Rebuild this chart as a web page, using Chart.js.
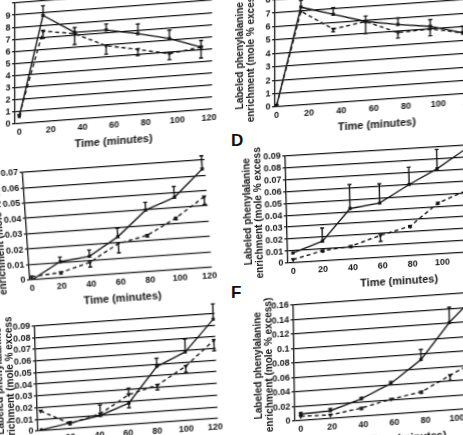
<!DOCTYPE html>
<html><head><meta charset="utf-8">
<script src="https://cdn.jsdelivr.net/npm/chart.js@4/dist/chart.umd.min.js"></script>
<style>
html,body{margin:0;padding:0;background:#fff;width:463px;height:435px;overflow:hidden;position:relative}
canvas.panel{position:absolute}
.letter{position:absolute;font:bold 17px "Liberation Sans",Arial,sans-serif;color:#111}
</style></head><body>
<div class="letter" style="left:231px;top:131px">D</div>
<div class="letter" style="left:231px;top:283px">F</div>
<script>
// ---------- data ----------
const timesA  = [0, 15, 35, 55, 75, 95, 115];
const solidA  = [0.6, 8.8, 7.2, 7.2, 6.7, 6.1, 5.2];
const dashA   = [0.7, 7.5, 7.1, 5.9, 5.4, 4.85, 5.2];
const solidErrA = [0, 0.8, 0.4, 0.5, 0.8, 0.7, 0.55];
const dashErrA  = [0, -0.6, -0.9, -0.7, -0.5, -0.5, -0.9];

const timesB  = [0, 15, 35, 55, 75, 95, 115];
const solidB  = [0.1, 7.3, 6.6, 5.9, 5.5, 5.2, 4.55];
const dashB   = [0.1, 7.0, 5.5, 5.9, 4.9, 5.0, 4.55];
const solidErrB = [0, 0.5, 0.5, 0.4, 0.5, 0.5, 0.5];
const dashErrB  = [0, 0, -0.2, -0.9, -0.4, -0.5, 0];

const timesC  = [0, 20, 40, 60, 80, 100, 120];
const solidC  = [0, 0.0105, 0.0127, 0.024, 0.040, 0.047, 0.064];
const dashC   = [0.002, 0.0035, 0.0087, 0.0196, 0.0236, 0.0335, 0.046];
const solidErrC = [0, 0.003, 0.004, 0.0055, 0.005, 0.007, 0.0086];
const dashErrC  = [0, -0.001, -0.003, -0.006, -0.001, -0.001, -0.005];

const timesD  = [0, 20, 39, 59, 79, 98, 118];
const solidD  = [0.0083, 0.0166, 0.0425, 0.0457, 0.0596, 0.0715, 0.087];
const dashD   = [0.0027, 0.0087, 0.011, 0.0186, 0.0247, 0.0427, 0.052];
const solidErrD = [0, 0.011, 0.02, 0.016, 0.0145, 0.016, 0];
const dashErrD  = [0, -0.001, -0.001, -0.005, -0.001, -0.001, 0];

const timesE  = [0, 20, 41, 61, 81, 101, 121];
const solidE  = [0.0007, 0.005, 0.0096, 0.0185, 0.048, 0.0587, 0.085];
const dashE   = [0.0169, 0.0045, 0.011, 0.0256, 0.032, 0.0465, 0.067];
const solidErrE = [0, 0.001, 0.009, -0.004, 0.007, 0.011, 0.013];
const dashErrE  = [0, -0.001, -0.002, 0.0056, -0.004, -0.005, -0.009];

const timesF  = [0, 19, 39, 58, 77.5, 96, 115];
const solidF  = [0.009, 0.0107, 0.0242, 0.0424, 0.0725, 0.121, 0.16];
const dashF   = [0.006, 0.005, 0.0115, 0.021, 0.028, 0.048, 0.068];
const solidErrF = [0.002, 0.003, 0.002, 0.003, 0.014, 0.021, 0];
const dashErrF  = [0, 0, -0.002, 0, -0.002, -0.007, 0];

const xTickLabels = [0, 20, 40, 60, 80, 100, 120];
const xTitle = 'Time (minutes)';
const yTitle = ['Labeled phenylalanine', 'enrichment (mole % excess)'];

// ---------- layout (positions / styles only) ----------
// AL/AB: bottom-left corner of plot area; skew: slope of horizontals; lean: tilt of verticals
const geo = {
  A:{AL:15,   AT:3,     AB:124,   xmin:-2.7, xmax:122, k:1.6,   ymax:10,   step:1,    skew:-4.3, lean:0,   yw:40, hideTop:true},
  B:{AL:275,  AT:-0.1,  AB:107.3, xmin:-1,   xmax:125, k:1.617, ymax:8,    step:1,    skew:-4.0, lean:0,   yw:40},
  C:{AL:30,   AT:171.7, AB:280,   xmin:-1.2, xmax:122, k:1.5,   ymax:0.07, step:0.01, skew:-4.0, lean:3.9, yw:43},
  D:{AL:287.5,AT:155.7, AB:263.3, xmin:-3.5, xmax:145, k:1.493, ymax:0.09, step:0.01, skew:-3.43,lean:1.4, yw:44},
  E:{AL:38.3, AT:325,   AB:430.5, xmin:-2.3, xmax:122, k:1.47,  ymax:0.09, step:0.01, skew:-4.0, lean:1.8, yw:42},
  F:{AL:295,  AT:305,   AB:421,   xmin:-3.7, xmax:140, k:1.56,  ymax:0.16, step:0.02, skew:-4.0, lean:0.8, yw:41}
};
const panels = {
  A:[timesA, solidA, dashA, solidErrA, dashErrA],
  B:[timesB, solidB, dashB, solidErrB, dashErrB],
  C:[timesC, solidC, dashC, solidErrC, dashErrC],
  D:[timesD, solidD, dashD, solidErrD, dashErrD],
  E:[timesE, solidE, dashE, solidErrE, dashErrE],
  F:[timesF, solidF, dashF, solidErrF, dashErrF]
};

const INK = '#151515';
const FAM = '"Liberation Sans Narrow", "Arial Narrow", "Liberation Sans", Arial, sans-serif';

const errBars = {
  id:'errBars',
  afterDatasetsDraw(chart){
    const {ctx, scales:{x, y}} = chart;
    chart.data.datasets.forEach(ds => {
      if (!ds.errs) return;
      ctx.save();
      ctx.strokeStyle = INK; ctx.lineWidth = 1.4;
      ds.data.forEach((p, i) => {
        const e = ds.errs[i]; if (!e) return;
        const px = x.getPixelForValue(p.x);
        const p0 = y.getPixelForValue(p.y), p1 = y.getPixelForValue(p.y + e);
        ctx.beginPath();
        ctx.moveTo(px, p0); ctx.lineTo(px, p1);
        ctx.moveTo(px - 2, p1); ctx.lineTo(px + 2, p1);
        ctx.stroke();
      });
      ctx.restore();
    });
  }
};

const PT = 10, PR = 5, XH = 32;

Object.keys(geo).forEach(key => {
  const g = geo[key];
  const YW = g.yw;
  const [times, solid, dash, sErr, dErr] = panels[key];
  const areaW = (g.xmax - g.xmin) * g.k;
  const areaH = g.AB - g.AT;
  const W = Math.round(YW + areaW + PR);
  const H = Math.round(PT + areaH + XH);
  const padTop = H - XH - areaH;
  const cv = document.createElement('canvas');
  cv.className = 'panel';
  cv.width = W; cv.height = H;
  cv.style.width = W + 'px'; cv.style.height = H + 'px';
  cv.style.left = (g.AL - YW) + 'px';
  cv.style.top = (g.AT - padTop) + 'px';
  cv.style.transformOrigin = YW + 'px ' + (padTop + areaH) + 'px';
  cv.style.transform = 'skewY(' + g.skew + 'deg) skewX(' + g.lean + 'deg)';
  document.body.appendChild(cv);

  const fmt = v => {
    if (g.hideTop && Math.abs(v - g.ymax) < 1e-9) return '';
    return String(+v.toFixed(3));
  };

  new Chart(cv, {
    type:'line',
    data:{datasets:[
      {data: times.map((t, i) => ({x:t, y:solid[i]})), errs:sErr,
       borderColor:INK, backgroundColor:INK, borderWidth:1.4,
       pointStyle:'rect', pointRadius:2.3, pointBorderWidth:0, tension:0},
      {data: times.map((t, i) => ({x:t, y:dash[i]})), errs:dErr,
       borderColor:INK, backgroundColor:INK, borderWidth:1.4, borderDash:[4,3],
       pointStyle:'triangle', rotation:180, pointRadius:2.8, pointBorderWidth:0, tension:0}
    ]},
    options:{
      responsive:false, animation:false, devicePixelRatio:1,
      layout:{padding:{top:padTop, right:W - YW - areaW, left:0, bottom:0}},
      plugins:{legend:{display:false}, tooltip:{enabled:false}},
      scales:{
        x:{type:'linear', min:g.xmin, max:g.xmax,
           afterFit:s => { s.height = XH; },
           afterBuildTicks:s => { s.ticks = xTickLabels.map(v => ({value:v})); },
           grid:{display:false, drawTicks:false}, border:{display:false},
           ticks:{padding:3.5, color:INK, maxRotation:0, autoSkip:false,
                  font:{family:FAM, size:9, weight:'bold'}},
           title:{display:true, text:xTitle, color:INK, padding:{top:0, bottom:0},
                  font:{family:FAM, size:11, weight:'bold'}}},
        y:{type:'linear', min:0, max:g.ymax,
           afterFit:s => { s.width = YW; },
           grid:{color:INK, lineWidth:1.3, drawTicks:true, tickLength:3},
           border:{display:true, color:INK, width:1.3},
           ticks:{stepSize:g.step, padding:1.5, color:INK, callback:fmt, autoSkip:false,
                  font:{family:FAM, size:9, weight:'bold'}},
           title:{display:true, text:yTitle, color:INK, padding:{top:0, bottom:0},
                  font:{family:FAM, size:10, weight:'bold', lineHeight:1.08}}}
      }
    },
    plugins:[errBars]
  });
});
</script>
</body></html>
